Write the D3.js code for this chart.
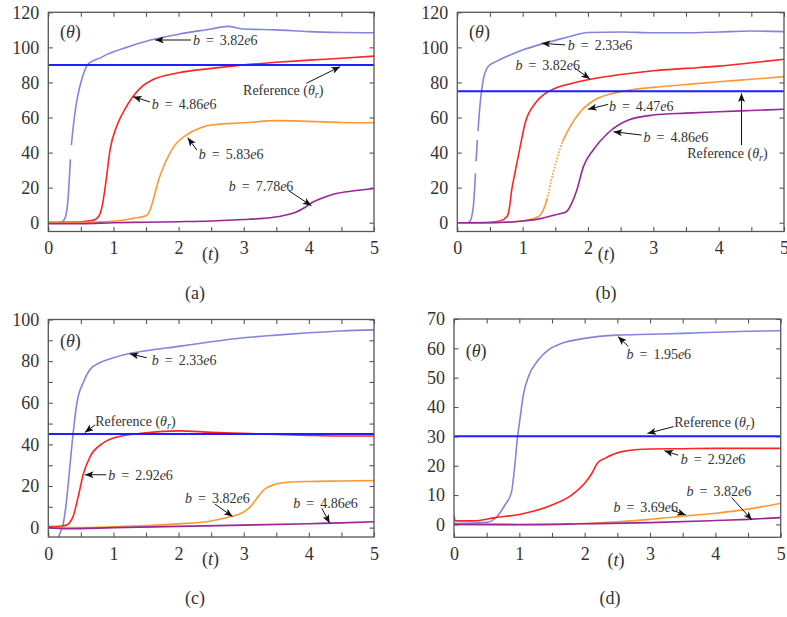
<!DOCTYPE html>
<html>
<head>
<meta charset="utf-8">
<script src="https://cdn.jsdelivr.net/npm/d3@7"></script>
<style>
  body { margin: 0; background: #fff; }
  text { font-family: "Liberation Serif", "Times New Roman", serif; fill: #333; }
</style>
</head>
<body>
<svg id="fig" width="787" height="617"></svg>
<script>
// ---- data: [t, theta] pairs ----
// panel (a)
const aLabels = ["3.82e6", "4.86e6", "5.83e6", "7.78e6"];
const aRef = 90;
const aS1 = [[0,0],[0.2,0.3],[0.25,2],[0.3,12],[0.35,42],[0.4,60],[0.45,72],[0.5,80],[0.55,86],[0.6,90],[0.7,92.5],[0.8,94],[0.9,96],[1,97.5],[1.2,100],[1.5,103.5],[2,107.5],[2.5,110.5],[2.75,112],[3,110.5],[3.5,110],[4,109],[4.5,108.5],[5,108.3]];
const aS2 = [[0,0.3],[0.5,0.6],[0.7,1.5],[0.78,4],[0.83,10],[0.88,22],[0.95,42],[1.05,55],[1.15,63],[1.3,72],[1.45,78],[1.6,81.5],[2,85.5],[2.5,88],[3,90],[3.5,91.5],[4,92.7],[4.5,93.8],[5,95]];
const aS3 = [[0,0],[0.5,0.2],[1,0.8],[1.3,2.5],[1.5,4],[1.56,7],[1.61,13],[1.69,24],[1.77,32],[1.92,43],[2.12,50],[2.33,54],[2.5,55.7],[3,57],[3.5,58.2],[4,57.8],[4.5,57.2],[5,57]];
const aS4 = [[0,-0.5],[0.5,-0.5],[1,0],[1.5,0.3],[2,0.6],[2.5,1],[3,1.8],[3.3,2.5],[3.6,4],[3.8,6],[3.95,9],[4.05,11.5],[4.2,14],[4.4,16.5],[4.7,18.2],[5,19.5]];

// panel (b)
const bLabels = ["2.33e6", "3.82e6", "4.47e6", "4.86e6"];
const bRef = 75;
const bS1 = [[0,0],[0.15,0],[0.19,0.6],[0.245,9],[0.3,43],[0.35,68],[0.4,82],[0.47,89],[0.6,92],[0.8,95.5],[1,98.5],[1.3,102],[1.5,104],[1.75,106.5],[2,108.5],[2.5,108.8],[3,108.3],[3.5,108.3],[4,108.8],[4.5,109.3],[5,109]];
const bS2 = [[0,0],[0.5,0.3],[0.65,1],[0.76,3.4],[0.8,9],[0.83,18],[0.88,28],[0.96,43],[1.04,57],[1.19,68],[1.35,73.8],[1.5,76.7],[1.76,79.5],[2,81.5],[2.5,84.5],[3,86.7],[3.5,88],[4,89.3],[4.5,91.2],[5,93.2]];
const bS3 = [[0,-0.3],[0.5,0],[1,1],[1.2,2.8],[1.27,4.4],[1.37,13],[1.44,24.4],[1.52,35.8],[1.62,47],[1.7,53],[1.9,64],[2.1,70],[2.5,74.7],[3,77.2],[3.5,78.8],[4,80.4],[4.5,81.8],[5,83.3]];
const bS4 = [[0,0],[0.5,0],[1,1],[1.3,2.5],[1.5,4.5],[1.67,6.3],[1.75,11],[1.83,18.7],[1.93,32],[2.08,41.5],[2.31,51.3],[2.62,58.6],[3,61.4],[3.5,62.5],[4,63.3],[4.5,64],[5,64.7]];

// panel (c)
const cLabels = ["2.33e6", "2.92e6", "3.82e6", "4.86e6"];
const cRef = 45;
const cS1 = [[0.15,-5],[0.2,-1],[0.23,2],[0.28,13],[0.33,29],[0.38,45],[0.44,60],[0.54,70],[0.64,76],[0.79,79.2],[1,81.6],[1.3,84],[1.5,85],[2,87.1],[2.5,89.3],[3,91.2],[3.5,92.5],[4,93.6],[4.5,94.5],[5,95]];
const cS2 = [[0,0.5],[0.2,0.8],[0.28,1.3],[0.33,2.5],[0.38,5.3],[0.46,15],[0.54,26],[0.64,34],[0.84,40.6],[1.09,43.8],[1.46,45.4],[2,46.5],[2.5,45.8],[3,45.3],[3.5,44.8],[4,44.3],[4.5,44],[5,44]];
const cS3 = [[0,0],[0.5,0],[1,0.4],[1.5,1],[2,1.8],[2.5,3.2],[2.8,5.3],[3,7.5],[3.1,10],[3.2,14],[3.31,18.2],[3.46,20.6],[3.72,21.9],[4,22.2],[4.5,22.4],[5,22.6]];
const cS4 = [[0,0],[0.3,-0.5],[1,0],[2,0.6],[3,1.2],[4,1.9],[4.5,2.3],[5,2.8]];

// panel (d)
const dLabels = ["1.95e6", "2.92e6", "3.69e6", "3.82e6"];
const dRef = 30;
const dS1 = [[0,0.3],[0.5,0.7],[0.63,2],[0.78,6.6],[0.88,11],[0.93,20],[0.97,29.3],[1.01,36],[1.06,44],[1.14,50.4],[1.29,56],[1.44,59.4],[1.65,61.7],[2,63.4],[2.5,64.5],[3,64.8],[3.5,65.1],[4,65.5],[4.5,65.8],[5,66]];
const dS2 = [[0,3],[0.02,1.2],[0.3,1.2],[0.63,2.3],[1,3.4],[1.5,6.6],[1.8,10],[2,14],[2.1,17],[2.2,21],[2.31,22.5],[2.57,24.8],[3,25.7],[3.5,25.8],[4,25.9],[5,25.9]];
const dS3 = [[0,0],[1,0],[2,0.3],[2.5,0.9],[3,1.7],[3.5,2.8],[4,3.8],[4.5,5.2],[5,7.2]];
const dS4 = [[0,0],[1,-0.1],[2,0.2],[3,0.6],[4,1.3],[4.5,1.7],[5,2.3]];

const tTicks = d3.range(0, 5.01, 0.5);

// ---- styling ----
const seriesColors = ["#8484dc", "#ff2424", "#ff9830", "#9a2597"];
const refColor = "#1f1fff";

const svg = d3.select("#fig");

svg.append("defs").append("marker")
  .attr("id", "head")
  .attr("viewBox", "0 0 10 8")
  .attr("refX", 10).attr("refY", 4)
  .attr("markerWidth", 9).attr("markerHeight", 7)
  .attr("markerUnits", "userSpaceOnUse")
  .attr("orient", "auto")
  .append("path").attr("d", "M0,0 L10,4 L0,8 L2.5,4 z").attr("fill", "#111");

// "b = 3.82e6" with italic b and e
function bLabel(sel, label) {
  const [m, e] = label.split("e");
  sel.append("tspan").style("font-style", "italic").text("b");
  sel.append("tspan").attr("dx", 6).text("=");
  sel.append("tspan").attr("dx", 6).text(m);
  sel.append("tspan").style("font-style", "italic").text("e");
  sel.append("tspan").text(e);
}
function refLabel(sel) {
  sel.append("tspan").text("Reference (");
  sel.append("tspan").style("font-style", "italic").text("θ");
  sel.append("tspan").style("font-style", "italic").attr("font-size", 10).attr("dy", 3).text("r");
  sel.append("tspan").attr("dy", -3).text(")");
}

const panels = [
  { id: "a", box: [48.3, 12.3, 374, 231.5], yDom: [-5, 120], yTick: 20, yLab: 20,
    series: [aS1, aS2, aS3, aS4], labels: aLabels, ref: aRef,
    // breaks in sparsely sampled steep parts: [series, theta from, theta to, dash, gap]
    gaps: [[0, 36, 44, 999, 0]],
    // note: [series index or -1 for reference, text t, text theta, arrow tail t, theta, head t, theta]
    notes: [[0, 2.22, 104.2, 2.19, 104.2, 1.64, 104.2],
            [1, 1.59, 67.7, 1.56, 68.9, 1.30, 71.9],
            [2, 2.31, 39.2, 2.28, 41.5, 2.14, 48.5],
            [3, 2.77, 21.1, 3.69, 18.3, 4.04, 9.7],
            [-1, 2.99, 75.7, 3.96, 79.5, 4.48, 89]],
    theta: [0.18, 108.8], tLab: 2.36, cap: [195, 293] },
  { id: "b", box: [457.3, 12.3, 784, 231.5], yDom: [-5, 120], yTick: 20, yLab: 20,
    series: [bS1, bS2, bS3, bS4], labels: bLabels, ref: bRef,
    gaps: [[0, 28, 35, 999, 0], [0, 47, 52, 999, 0], [2, 14, 46, 1.6, 1.6]],
    notes: [[0, 1.69, 101.4, 1.65, 101.4, 1.29, 102.3],
            [1, 0.89, 90, 1.80, 88.1, 2.03, 82],
            [2, 2.32, 66.6, 2.31, 67.5, 2.0, 64.7],
            [3, 2.85, 49.1, 2.82, 50, 2.39, 51.9],
            [-1, 3.52, 39.6, 4.35, 44.3, 4.35, 73.8]],
    theta: [0.18, 108.8], tLab: 2.15, cap: [606, 293] },
  { id: "c", box: [48.3, 319.5, 374, 537], yDom: [-4.5, 100], yTick: 10, yLab: 20,
    series: [cS1, cS2, cS3, cS4], labels: cLabels, ref: cRef, gaps: [],
    notes: [[0, 1.59, 80.7, 1.51, 81.6, 1.25, 83.5],
            [-1, 0.72, 51, 0.72, 49.4, 0.56, 45.7],
            [1, 0.92, 25.4, 0.89, 25.4, 0.56, 25.4],
            [2, 2.10, 14.2, 2.56, 11.3, 2.83, 5.3],
            [3, 3.76, 12, 4.20, 9.3, 4.32, 2.1]],
    theta: [0.18, 89.9], tLab: 2.36, cap: [195, 598] },
  { id: "d", box: [454, 319, 780.7, 537.3], yDom: [-4.4, 70], yTick: 10, yLab: 10,
    series: [dS1, dS2, dS3, dS4], labels: dLabels, ref: dRef, gaps: [],
    notes: [[0, 2.64, 58, 2.67, 60.6, 2.51, 64],
            [-1, 3.37, 35, 3.36, 33.3, 2.96, 31],
            [1, 3.47, 22.3, 3.43, 23.6, 3.22, 25.1],
            [3, 3.56, 11.5, 4.25, 9.1, 4.56, 1.5],
            [2, 2.44, 6, 3.33, 4.9, 3.55, 3.2]],
    theta: [0.18, 59.2], tLab: 2.35, cap: [610, 598] }
];

panels.forEach(p => {
  const [x0, y0, x1, y1] = p.box;
  const x = d3.scaleLinear().domain([0, 5]).range([x0, x1]);
  const y = d3.scaleLinear().domain(p.yDom).range([y1, y0]);
  const g = svg.append("g");

  const yTicks = d3.range(0, p.yDom[1] + 0.01, p.yTick);
  const fmtY = d => (d % p.yLab === 0 ? d : "");
  const fmtX = d => (Number.isInteger(d) ? d : "");

  // axes: ticks inward
  const styleAxis = ax => {
    ax.select(".domain").remove();
    ax.selectAll("line").attr("stroke", "#555").attr("stroke-width", 1.1);
    ax.selectAll("text").attr("font-size", 18).attr("fill", "#333")
      .style("font-family", "'Liberation Serif', serif");
  };
  g.append("g").attr("transform", `translate(0,${y1})`)
    .call(d3.axisBottom(x).tickValues(tTicks).tickSizeInner(-4.5).tickSizeOuter(0).tickPadding(10).tickFormat(fmtX))
    .call(styleAxis);
  g.append("g").attr("transform", `translate(0,${y0})`)
    .call(d3.axisTop(x).tickValues(tTicks).tickSizeInner(-4.5).tickSizeOuter(0).tickFormat(""))
    .call(styleAxis);
  g.append("g").attr("transform", `translate(${x0},0)`)
    .call(d3.axisLeft(y).tickValues(yTicks).tickSizeInner(-4.5).tickSizeOuter(0).tickPadding(9).tickFormat(fmtY))
    .call(styleAxis);
  g.append("g").attr("transform", `translate(${x1},0)`)
    .call(d3.axisRight(y).tickValues(yTicks).tickSizeInner(-4.5).tickSizeOuter(0).tickFormat(""))
    .call(styleAxis);

  // clip for curves
  svg.select("defs").append("clipPath").attr("id", "clip-" + p.id)
    .append("rect").attr("x", x0).attr("y", y0).attr("width", x1 - x0).attr("height", y1 - y0);

  const plot = g.append("g").attr("clip-path", `url(#clip-${p.id})`);
  const line = d3.line().x(d => x(d[0])).y(d => y(d[1])).curve(d3.curveMonotoneX);

  const nodes = p.series.map((s, i) =>
    plot.append("path").datum(s)
      .attr("d", line)
      .attr("fill", "none")
      .attr("stroke", seriesColors[i])
      .attr("stroke-width", 1.6)
      .attr("stroke-linejoin", "round")
      .node());

  // white breaks over the steep, sparsely sampled parts
  p.gaps.forEach(([si, v0, v1, w, k]) => {
    const node = nodes[si];
    const total = node.getTotalLength();
    const find = v => {
      for (let l = 0; l <= total; l += 0.25) {
        if (node.getPointAtLength(l).y <= y(v)) return l;
      }
      return total;
    };
    const L0 = find(v0), L1 = find(v1);
    const seq = [0, L0];
    let acc = L0;
    while (acc < L1) {
      const d = Math.min(w, L1 - acc);
      seq.push(d, k);
      acc += d + k;
    }
    seq.push(0, total + 10);
    plot.append("path").datum(p.series[si])
      .attr("d", line).attr("fill", "none")
      .attr("stroke", "#fff").attr("stroke-width", 3.2)
      .attr("stroke-dasharray", seq.join(","));
  });

  plot.append("line")
    .attr("x1", x(0)).attr("x2", x(5))
    .attr("y1", y(p.ref)).attr("y2", y(p.ref))
    .attr("stroke", refColor).attr("stroke-width", 2);

  // frame
  g.append("rect").attr("x", x0).attr("y", y0).attr("width", x1 - x0).attr("height", y1 - y0)
    .attr("fill", "none").attr("stroke", "#555").attr("stroke-width", 1.3);

  // annotations
  p.notes.forEach(n => {
    const [si, tx, ty, ax, ay, hx, hy] = n;
    g.append("line")
      .attr("x1", x(ax)).attr("y1", y(ay)).attr("x2", x(hx)).attr("y2", y(hy))
      .attr("stroke", "#111").attr("stroke-width", 1)
      .attr("marker-end", "url(#head)");
    const t = g.append("text").attr("x", x(tx)).attr("y", y(ty)).attr("dy", "0.35em")
      .attr("font-size", 14);
    if (si < 0) refLabel(t); else bLabel(t, p.labels[si]);
  });

  // axis names
  const th = g.append("text").attr("x", x(p.theta[0])).attr("y", y(p.theta[1])).attr("dy", "0.35em")
    .attr("font-size", 18);
  th.append("tspan").text("(");
  th.append("tspan").style("font-style", "italic").text("θ");
  th.append("tspan").text(")");

  const tl = g.append("text").attr("x", x(p.tLab)).attr("y", y1 + 22).attr("dy", "0.35em")
    .attr("font-size", 18);
  tl.append("tspan").text("(");
  tl.append("tspan").style("font-style", "italic").text("t");
  tl.append("tspan").text(")");

  svg.append("text").attr("x", p.cap[0]).attr("y", p.cap[1]).attr("dy", "0.35em")
    .attr("text-anchor", "middle").attr("font-size", 18).text(`(${p.id})`);
});
</script>
</body>
</html>
